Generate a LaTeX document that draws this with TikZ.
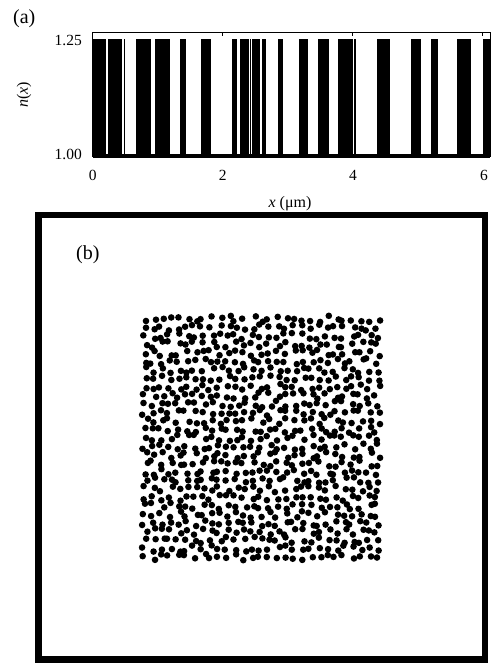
\documentclass[tikz,border=0pt]{standalone}
\usepackage{fontspec}
\setmainfont{Liberation Serif}
\begin{document}
\begin{tikzpicture}[x=1pt,y=-1pt,
  bar/.style={fill=black},
  axisline/.style={line width=0.8pt},
  ticklab/.style={font=\fontsize{15.5}{18}\selectfont, inner sep=0pt},
  axlab/.style={font=\fontsize{16}{19}\selectfont, inner sep=0pt},
  panellab/.style={font=\fontsize{20}{24}\selectfont, inner sep=0pt},
  dot/.style={fill=black},
  frame/.style={draw=black, line width=6.6pt}]
\useasboundingbox (0,0) rectangle (500,664);
% ---- panel (a): bars
\foreach \a/\b in {92.7/106, 107.5/122, 123.7/125.2, 136.3/150.7, 155/170, 179.7/185.7,
  201/210.7, 232.3/237.3, 240/248.7, 250.3/250.9, 251.7/260.3, 262/265.7, 278.3/282.7,
  299.3/307.7, 317.7/329, 337.7/352.7, 354.3/355.7, 376.7/389.7, 411/420.7, 431/437.7,
  457.3/470.7, 483/490}
  \fill[bar] (\a,39) rectangle (\b,157.5);
% axes frame
\draw[axisline] (92.7,157) -- (92.7,32.7) -- (490,32.7) -- (490,157);
\fill (92.7,154) rectangle (490,157.5);
\foreach \t in {222.7,352.7,482.7}
  \draw[axisline] (\t,32.7) -- (\t,36);
% tick labels
\node[ticklab, anchor=base east] (y125) at (82,45) {1.25};
\node[ticklab, anchor=base east] (y100) at (82,159) {1.00};
\node[ticklab, anchor=base] (x0) at (92.7,180) {0};
\node[ticklab, anchor=base] (x2) at (222.7,180) {2};
\node[ticklab, anchor=base] (x4) at (353,180) {4};
\node[ticklab, anchor=base] (x6) at (484,180) {6};
% axis labels
\node[axlab, anchor=base] (xlab) at (290,207) {\textit{x} (μm)};
\node[axlab, rotate=90] (ylab) at (24,95) {\textit{n}(\textit{x})};
\node[panellab, anchor=base west] (pa) at (13,23.5) {(a)};
% ---- panel (b)
\draw[frame] (38.3,215) rectangle (485,659.7);
\node[panellab, anchor=base west] (pb) at (76,259.5) {(b)};
\pgfmathsetseed{4242}
\foreach \i in {0,...,28}{
  \foreach \j in {0,...,28}{
    \pgfmathsetmacro\px{145+8.29*\i+3.2*rand}
    \pgfmathsetmacro\py{319+8.5*\j+3.2*rand}
    \fill[dot] (\px,\py) circle[radius=3.3];
  }
}
\end{tikzpicture}
\end{document}
